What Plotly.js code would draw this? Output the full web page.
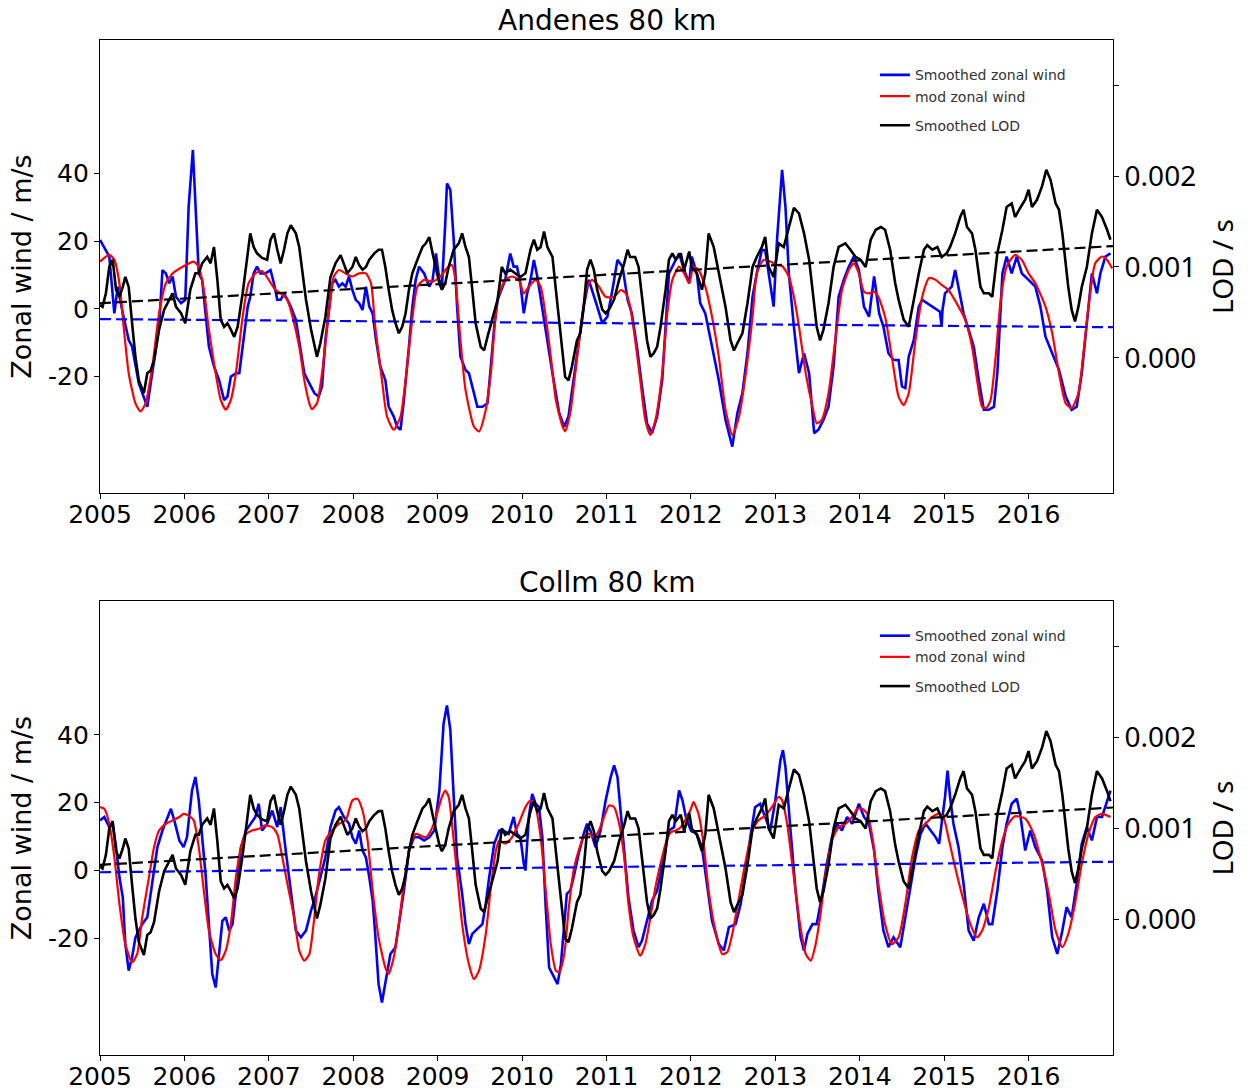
<!DOCTYPE html>
<html>
<head>
<meta charset="utf-8">
<script src="https://cdn.plot.ly/plotly-3.0.1.min.js"></script>
<style>html,body{margin:0;padding:0;background:#fff;}#chart{width:1256px;height:1092px;}</style>
</head>
<body>
<div id="chart"></div>
<script>
// ---------- data ----------
const panelTitles = ["Andenes 80 km", "Collm 80 km"];
const yearTicks = [2005,2006,2007,2008,2009,2010,2011,2012,2013,2014,2015,2016];
const windTicks = [-20, 0, 20, 40];
const windTickText = ["-20", "0", "20", "40"];
const lodTicks = [0, 0.001, 0.002, 0.003];
const lodTickText = ["0.000", "0.001", "0.002", ""];
const trendYears = [2005, 2017];

const andenesWindYears = [2005.00,2005.07,2005.11,2005.17,2005.21,2005.27,2005.34,2005.38,2005.46,2005.56,2005.62,2005.70,2005.74,2005.78,2005.82,2005.86,2005.90,2005.96,2006.01,2006.05,2006.10,2006.13,2006.17,2006.21,2006.25,2006.29,2006.35,2006.41,2006.47,2006.51,2006.55,2006.61,2006.65,2006.69,2006.75,2006.78,2006.82,2006.86,2006.90,2006.96,2007.02,2007.06,2007.10,2007.14,2007.18,2007.22,2007.26,2007.32,2007.36,2007.42,2007.48,2007.54,2007.59,2007.63,2007.67,2007.71,2007.75,2007.79,2007.83,2007.87,2007.91,2007.95,2007.99,2008.03,2008.07,2008.11,2008.15,2008.19,2008.23,2008.27,2008.32,2008.38,2008.42,2008.48,2008.52,2008.56,2008.60,2008.66,2008.70,2008.74,2008.78,2008.84,2008.90,2008.94,2008.98,2009.02,2009.05,2009.09,2009.11,2009.15,2009.19,2009.23,2009.27,2009.33,2009.37,2009.43,2009.47,2009.53,2009.59,2009.63,2009.67,2009.71,2009.80,2009.86,2009.90,2009.94,2009.98,2010.02,2010.06,2010.10,2010.14,2010.18,2010.24,2010.30,2010.36,2010.44,2010.50,2010.55,2010.61,2010.67,2010.73,2010.79,2010.83,2010.89,2010.95,2011.01,2011.07,2011.13,2011.19,2011.25,2011.30,2011.36,2011.42,2011.48,2011.54,2011.60,2011.66,2011.70,2011.74,2011.80,2011.86,2011.92,2011.98,2012.01,2012.07,2012.11,2012.17,2012.25,2012.33,2012.41,2012.49,2012.55,2012.61,2012.67,2012.73,2012.78,2012.84,2012.88,2012.94,2012.98,2013.02,2013.08,2013.12,2013.16,2013.22,2013.28,2013.34,2013.40,2013.46,2013.51,2013.57,2013.63,2013.69,2013.75,2013.81,2013.87,2013.93,2013.99,2014.05,2014.11,2014.17,2014.23,2014.28,2014.34,2014.40,2014.46,2014.50,2014.54,2014.58,2014.64,2014.70,2014.74,2014.95,2014.97,2014.98,2015.01,2015.05,2015.09,2015.13,2015.17,2015.23,2015.29,2015.35,2015.41,2015.47,2015.53,2015.59,2015.63,2015.69,2015.74,2015.80,2015.86,2015.92,2016.00,2016.08,2016.14,2016.20,2016.28,2016.36,2016.44,2016.51,2016.57,2016.63,2016.69,2016.75,2016.81,2016.85,2016.91,2016.97];
const andenesWind = [20.4,17.4,15.5,-1.3,6.6,-1.3,-9.2,-11.1,-22.0,-28.9,-19.0,-5.2,11.5,10.5,7.6,9.6,3.6,1.7,2.7,30.2,47.0,30.2,10.5,8.6,-2.3,-11.1,-17.0,-21.0,-26.9,-25.9,-20.0,-19.0,-19.0,-11.1,0.7,3.6,10.5,12.5,10.5,10.5,11.5,7.6,2.7,2.7,4.6,2.7,0.7,-3.2,-9.2,-19.0,-22.0,-24.9,-25.9,-22.9,-9.2,-1.3,7.6,8.6,6.6,7.6,6.6,9.6,5.6,2.7,1.7,-0.3,6.6,0.7,-1.3,-9.2,-17.0,-21.0,-28.9,-31.8,-34.8,-35.7,-26.9,-11.1,0.7,8.6,12.5,10.5,6.6,8.6,16.4,8.6,6.6,25.3,37.1,35.2,20.4,0.7,-14.1,-18.0,-19.0,-24.9,-28.9,-28.9,-27.9,-17.0,-5.2,2.7,8.6,16.4,12.5,12.5,7.6,-1.3,4.6,8.6,14.5,9.6,-0.3,-9.2,-19.0,-30.8,-34.8,-31.8,-21.0,-10.1,0.7,8.6,5.6,0.7,-4.2,-2.3,5.6,14.5,12.5,2.7,-1.3,-11.1,-22.9,-33.8,-36.7,-31.8,-21.0,-4.2,10.5,13.5,16.4,11.5,7.6,15.5,10.5,1.7,-1.3,-11.1,-21.0,-32.8,-40.7,-30.8,-24.9,-13.1,3.6,10.5,17.4,17.4,6.6,0.7,20.4,41.1,30.2,10.5,-5.2,-19.0,-13.1,-19.0,-36.7,-35.7,-32.8,-28.9,-17.0,3.6,8.6,12.5,15.5,11.5,0.7,-2.3,9.6,-1.3,-5.2,-13.1,-15.1,-15.1,-22.9,-23.4,-14.1,-9.2,0.7,2.7,-0.8,-5.2,-0.3,4.6,5.6,6.6,11.5,6.6,-1.3,-6.2,-11.1,-21.0,-29.8,-29.8,-28.9,-19.0,10.5,15.5,10.5,15.5,10.5,8.6,6.6,0.7,-8.2,-13.1,-18.0,-25.9,-29.8,-28.9,-19.0,-4.2,10.5,4.6,10.5,15.5,16.4];

const andenesModYears = [2005.00,2005.11,2005.17,2005.23,2005.28,2005.34,2005.42,2005.48,2005.54,2005.62,2005.70,2005.78,2005.86,2005.98,2006.11,2006.17,2006.23,2006.29,2006.37,2006.43,2006.49,2006.55,2006.61,2006.69,2006.76,2006.84,2006.92,2007.00,2007.08,2007.14,2007.22,2007.28,2007.36,2007.42,2007.48,2007.51,2007.57,2007.63,2007.71,2007.77,2007.83,2007.91,2007.99,2008.07,2008.15,2008.21,2008.26,2008.34,2008.40,2008.48,2008.56,2008.62,2008.68,2008.76,2008.84,2008.94,2009.03,2009.11,2009.17,2009.21,2009.27,2009.33,2009.43,2009.49,2009.57,2009.63,2009.71,2009.80,2009.88,2009.96,2010.02,2010.08,2010.16,2010.22,2010.28,2010.34,2010.40,2010.48,2010.51,2010.57,2010.63,2010.71,2010.77,2010.83,2010.91,2010.99,2011.09,2011.17,2011.23,2011.28,2011.34,2011.40,2011.46,2011.52,2011.58,2011.66,2011.72,2011.78,2011.86,2011.92,2011.98,2012.03,2012.09,2012.17,2012.25,2012.33,2012.41,2012.49,2012.57,2012.65,2012.73,2012.78,2012.86,2012.94,2013.02,2013.08,2013.16,2013.22,2013.28,2013.36,2013.44,2013.49,2013.55,2013.63,2013.71,2013.79,2013.87,2013.93,2013.99,2014.05,2014.11,2014.17,2014.22,2014.30,2014.38,2014.46,2014.52,2014.58,2014.66,2014.74,2014.82,2014.90,2014.97,2015.05,2015.17,2015.25,2015.33,2015.39,2015.45,2015.50,2015.55,2015.61,2015.67,2015.74,2015.84,2015.92,2016.00,2016.08,2016.20,2016.28,2016.36,2016.44,2016.51,2016.59,2016.65,2016.71,2016.79,2016.87,2016.93,2016.99];
const andenesMod = [14.0,16.0,14.5,7.6,-5.2,-19.0,-27.9,-30.3,-27.9,-17.0,-1.3,7.6,10.5,12.5,14.0,12.5,5.6,-6.2,-19.0,-26.9,-29.8,-26.9,-19.0,-2.3,7.6,10.5,11.2,8.6,5.6,4.6,2.7,-2.3,-11.1,-21.0,-27.9,-29.6,-27.9,-19.0,-1.3,9.6,11.5,10.5,9.6,10.5,10.5,7.6,-5.2,-21.0,-31.8,-35.7,-31.8,-21.0,-7.2,6.6,8.6,8.1,9.6,12.0,13.0,8.6,-9.2,-23.9,-34.8,-36.2,-29.8,-19.0,2.7,8.6,9.6,8.6,4.6,6.6,8.6,6.6,-2.3,-14.1,-26.9,-34.8,-36.2,-30.8,-19.0,-2.3,6.6,8.6,6.6,3.6,3.6,5.6,4.6,0.7,-9.2,-21.0,-32.8,-37.2,-32.8,-19.0,-1.3,8.6,12.5,10.5,7.6,12.5,11.5,6.6,-2.3,-14.1,-29.8,-37.2,-31.8,-19.0,-2.3,10.5,14.5,14.0,13.0,12.7,9.6,3.6,-5.2,-19.0,-28.9,-33.8,-32.8,-24.9,-9.2,5.6,11.5,13.5,10.5,5.1,4.6,5.1,3.6,-2.3,-14.1,-25.9,-28.4,-24.9,-9.2,3.6,9.1,8.6,7.1,5.6,0.7,-3.2,-11.1,-21.0,-28.9,-29.3,-26.9,-14.1,2.7,12.5,16.0,14.5,10.5,7.6,0.7,-7.2,-19.0,-27.9,-29.3,-24.9,-13.1,0.7,13.5,15.5,14.5,12.0];

const lodYears = [2005.00,2005.03,2005.07,2005.11,2005.15,2005.19,2005.23,2005.27,2005.30,2005.34,2005.38,2005.42,2005.46,2005.52,2005.56,2005.60,2005.64,2005.70,2005.76,2005.82,2005.86,2005.90,2005.96,2006.01,2006.07,2006.13,2006.17,2006.21,2006.27,2006.31,2006.35,2006.39,2006.43,2006.47,2006.51,2006.55,2006.59,2006.63,2006.69,2006.75,2006.78,2006.82,2006.86,2006.92,2006.98,2007.02,2007.06,2007.10,2007.14,2007.18,2007.22,2007.26,2007.32,2007.36,2007.40,2007.44,2007.50,2007.54,2007.57,2007.61,2007.67,2007.73,2007.79,2007.85,2007.89,2007.93,2007.99,2008.03,2008.07,2008.11,2008.15,2008.19,2008.25,2008.30,2008.34,2008.38,2008.42,2008.46,2008.50,2008.54,2008.58,2008.62,2008.66,2008.70,2008.76,2008.82,2008.86,2008.90,2008.94,2008.98,2009.02,2009.05,2009.09,2009.13,2009.19,2009.25,2009.29,2009.33,2009.37,2009.41,2009.45,2009.51,2009.55,2009.59,2009.65,2009.71,2009.76,2009.80,2009.86,2009.92,2009.98,2010.04,2010.10,2010.14,2010.18,2010.22,2010.26,2010.30,2010.36,2010.40,2010.44,2010.48,2010.51,2010.55,2010.59,2010.65,2010.69,2010.73,2010.77,2010.81,2010.85,2010.89,2010.95,2010.99,2011.03,2011.09,2011.15,2011.21,2011.25,2011.28,2011.34,2011.38,2011.42,2011.48,2011.52,2011.56,2011.60,2011.64,2011.70,2011.74,2011.78,2011.82,2011.88,2011.92,2011.98,2012.01,2012.07,2012.13,2012.17,2012.21,2012.27,2012.33,2012.41,2012.47,2012.51,2012.55,2012.61,2012.67,2012.73,2012.78,2012.84,2012.88,2012.92,2012.98,2013.04,2013.10,2013.16,2013.22,2013.28,2013.34,2013.40,2013.46,2013.49,2013.53,2013.57,2013.63,2013.69,2013.75,2013.83,2013.89,2013.95,2014.01,2014.07,2014.13,2014.19,2014.25,2014.30,2014.36,2014.42,2014.46,2014.52,2014.58,2014.64,2014.70,2014.76,2014.80,2014.86,2014.92,2014.97,2015.03,2015.07,2015.13,2015.19,2015.23,2015.27,2015.33,2015.37,2015.43,2015.47,2015.53,2015.57,2015.63,2015.69,2015.74,2015.80,2015.84,2015.90,2015.96,2016.00,2016.04,2016.10,2016.16,2016.21,2016.26,2016.32,2016.36,2016.40,2016.44,2016.47,2016.51,2016.55,2016.59,2016.63,2016.69,2016.75,2016.81,2016.87,2016.93,2016.97];
const lod = [0.00058,0.00056,0.00071,0.00100,0.00108,0.00075,0.00067,0.00078,0.00089,0.00078,0.00038,0.00001,-0.00025,-0.00039,-0.00017,-0.00014,-0.00003,0.00031,0.00053,0.00064,0.00071,0.00056,0.00049,0.00038,0.00075,0.00093,0.00093,0.00104,0.00111,0.00104,0.00122,0.00086,0.00042,0.00034,0.00038,0.00031,0.00023,0.00034,0.00071,0.00115,0.00137,0.00122,0.00115,0.00110,0.00108,0.00130,0.00137,0.00119,0.00104,0.00119,0.00137,0.00146,0.00137,0.00122,0.00093,0.00064,0.00031,0.00012,0.00001,0.00016,0.00045,0.00089,0.00104,0.00113,0.00104,0.00093,0.00100,0.00111,0.00102,0.00097,0.00100,0.00108,0.00115,0.00119,0.00119,0.00100,0.00075,0.00053,0.00038,0.00027,0.00034,0.00049,0.00075,0.00093,0.00108,0.00122,0.00126,0.00133,0.00115,0.00100,0.00082,0.00075,0.00082,0.00100,0.00119,0.00126,0.00137,0.00122,0.00111,0.00075,0.00038,0.00012,0.00008,0.00023,0.00045,0.00064,0.00100,0.00093,0.00097,0.00093,0.00089,0.00093,0.00119,0.00130,0.00119,0.00122,0.00139,0.00122,0.00111,0.00075,0.00038,0.00001,-0.00021,-0.00025,-0.00010,0.00019,0.00027,0.00056,0.00097,0.00108,0.00097,0.00075,0.00053,0.00049,0.00053,0.00064,0.00086,0.00104,0.00119,0.00111,0.00111,0.00100,0.00067,0.00019,0.00001,0.00005,0.00012,0.00034,0.00075,0.00108,0.00115,0.00108,0.00115,0.00097,0.00117,0.00100,0.00093,0.00075,0.00093,0.00137,0.00122,0.00093,0.00056,0.00019,0.00008,0.00016,0.00027,0.00060,0.00100,0.00111,0.00122,0.00133,0.00100,0.00089,0.00126,0.00122,0.00144,0.00165,0.00159,0.00137,0.00108,0.00060,0.00034,0.00019,0.00031,0.00060,0.00100,0.00122,0.00126,0.00119,0.00111,0.00108,0.00100,0.00130,0.00141,0.00144,0.00141,0.00119,0.00082,0.00064,0.00042,0.00034,0.00064,0.00093,0.00119,0.00124,0.00119,0.00122,0.00111,0.00115,0.00122,0.00137,0.00155,0.00163,0.00144,0.00137,0.00119,0.00078,0.00071,0.00071,0.00067,0.00115,0.00141,0.00166,0.00170,0.00155,0.00165,0.00174,0.00185,0.00166,0.00174,0.00189,0.00207,0.00196,0.00170,0.00163,0.00137,0.00104,0.00078,0.00053,0.00040,0.00056,0.00078,0.00100,0.00137,0.00163,0.00155,0.00141,0.00130];

const collmWindYears = [2005.00,2005.05,2005.11,2005.15,2005.19,2005.23,2005.27,2005.30,2005.34,2005.38,2005.42,2005.46,2005.50,2005.56,2005.62,2005.68,2005.74,2005.80,2005.84,2005.88,2005.94,2005.99,2006.03,2006.09,2006.13,2006.17,2006.21,2006.25,2006.29,2006.33,2006.37,2006.41,2006.45,2006.49,2006.53,2006.57,2006.61,2006.67,2006.73,2006.78,2006.84,2006.88,2006.92,2006.98,2007.04,2007.10,2007.14,2007.20,2007.26,2007.32,2007.38,2007.44,2007.50,2007.55,2007.61,2007.67,2007.73,2007.79,2007.83,2007.89,2007.95,2007.99,2008.03,2008.07,2008.11,2008.15,2008.19,2008.23,2008.26,2008.30,2008.34,2008.38,2008.44,2008.50,2008.54,2008.60,2008.66,2008.72,2008.78,2008.84,2008.90,2008.96,2009.02,2009.07,2009.11,2009.15,2009.19,2009.23,2009.29,2009.33,2009.37,2009.41,2009.47,2009.53,2009.57,2009.61,2009.67,2009.73,2009.78,2009.84,2009.90,2009.94,2009.98,2010.02,2010.04,2010.08,2010.12,2010.16,2010.20,2010.24,2010.28,2010.32,2010.38,2010.42,2010.46,2010.50,2010.53,2010.57,2010.61,2010.67,2010.73,2010.77,2010.81,2010.87,2010.93,2010.99,2011.05,2011.09,2011.13,2011.17,2011.21,2011.26,2011.32,2011.38,2011.42,2011.48,2011.54,2011.60,2011.66,2011.70,2011.74,2011.80,2011.86,2011.90,2011.94,2012.00,2012.07,2012.13,2012.19,2012.25,2012.33,2012.39,2012.45,2012.53,2012.59,2012.65,2012.71,2012.76,2012.82,2012.88,2012.94,2013.00,2013.06,2013.09,2013.12,2013.18,2013.24,2013.30,2013.34,2013.38,2013.44,2013.49,2013.55,2013.61,2013.67,2013.73,2013.79,2013.85,2013.91,2013.99,2014.05,2014.11,2014.17,2014.22,2014.28,2014.34,2014.40,2014.48,2014.54,2014.60,2014.66,2014.72,2014.78,2014.84,2014.90,2014.94,2014.97,2015.01,2015.04,2015.07,2015.11,2015.17,2015.23,2015.29,2015.35,2015.41,2015.47,2015.53,2015.57,2015.63,2015.69,2015.74,2015.80,2015.86,2015.90,2015.96,2016.02,2016.08,2016.16,2016.22,2016.28,2016.34,2016.40,2016.45,2016.51,2016.57,2016.63,2016.69,2016.75,2016.81,2016.87,2016.93,2016.97];
const collmWind = [14.8,15.8,12.8,13.8,6.9,-2.0,-7.9,-21.7,-29.5,-25.6,-19.7,-17.7,-15.8,-13.8,-3.9,6.9,11.8,15.8,18.2,14.8,8.9,6.9,9.8,23.6,27.6,20.7,10.8,-1.0,-15.8,-30.5,-34.5,-25.6,-14.8,-13.8,-17.7,-15.8,-5.9,6.9,11.8,13.8,15.8,19.7,11.8,13.8,17.7,12.8,18.7,5.9,-5.9,-17.7,-19.7,-17.7,-11.8,-7.9,-2.0,3.9,12.8,17.7,18.7,15.8,13.8,9.8,7.9,11.8,5.9,3.9,-2.0,-8.9,-18.7,-33.5,-38.9,-33.5,-24.6,-22.6,-15.8,-5.9,5.9,9.8,9.8,8.9,9.8,11.8,23.6,43.3,48.7,41.4,21.7,3.9,-6.9,-15.8,-21.7,-18.7,-17.2,-15.8,-9.8,-2.0,7.9,11.8,11.8,10.8,15.8,10.8,9.8,2.0,0.0,15.8,22.6,19.7,18.7,9.8,-10.8,-28.6,-31.5,-33.5,-27.6,-15.8,-6.9,-5.9,-2.0,4.9,10.8,13.8,11.8,6.9,11.8,20.7,27.6,31.0,27.6,16.7,5.9,-7.9,-17.7,-22.6,-20.7,-14.8,-8.9,-5.9,2.0,6.9,11.8,12.8,23.6,20.7,15.8,11.8,10.8,6.9,-3.9,-14.8,-21.7,-23.6,-16.7,-15.8,-9.8,1.0,10.8,18.7,19.7,15.8,11.8,20.7,32.5,35.5,30.5,11.8,-5.9,-19.7,-23.6,-18.7,-15.8,-15.8,-7.9,2.0,9.8,13.8,11.8,15.8,13.8,19.7,15.8,13.8,5.9,-5.9,-17.7,-22.6,-19.7,-22.6,-13.8,-5.9,3.9,10.8,13.8,11.8,9.8,7.9,13.8,21.7,29.5,21.7,13.8,6.9,-3.9,-17.7,-20.7,-13.8,-9.8,-15.8,-15.8,-5.9,6.9,13.8,19.7,21.2,16.7,5.9,11.8,6.9,3.0,-5.9,-19.7,-24.6,-17.7,-10.8,-13.8,-3.9,7.9,12.8,8.9,15.8,15.8,20.7,23.6];

const collmModYears = [2005.00,2005.05,2005.11,2005.17,2005.23,2005.30,2005.38,2005.44,2005.50,2005.58,2005.64,2005.70,2005.78,2005.86,2005.94,2005.99,2006.05,2006.11,2006.17,2006.23,2006.29,2006.37,2006.43,2006.49,2006.55,2006.61,2006.67,2006.73,2006.80,2006.88,2006.96,2007.04,2007.10,2007.16,2007.22,2007.30,2007.36,2007.42,2007.48,2007.53,2007.59,2007.67,2007.75,2007.83,2007.91,2007.99,2008.05,2008.11,2008.17,2008.23,2008.30,2008.38,2008.42,2008.48,2008.54,2008.60,2008.68,2008.74,2008.80,2008.86,2008.92,2008.98,2009.05,2009.09,2009.13,2009.17,2009.23,2009.29,2009.37,2009.43,2009.49,2009.57,2009.63,2009.69,2009.73,2009.80,2009.88,2009.96,2010.04,2010.10,2010.16,2010.22,2010.28,2010.34,2010.40,2010.44,2010.50,2010.55,2010.61,2010.67,2010.73,2010.79,2010.85,2010.91,2010.97,2011.03,2011.09,2011.15,2011.21,2011.26,2011.32,2011.40,2011.46,2011.52,2011.58,2011.64,2011.70,2011.76,2011.82,2011.88,2011.94,2012.00,2012.03,2012.09,2012.15,2012.21,2012.29,2012.37,2012.43,2012.49,2012.57,2012.65,2012.73,2012.80,2012.88,2012.96,2013.04,2013.08,2013.14,2013.20,2013.28,2013.36,2013.42,2013.47,2013.53,2013.59,2013.67,2013.75,2013.83,2013.91,2013.97,2014.03,2014.09,2014.15,2014.22,2014.30,2014.38,2014.46,2014.54,2014.62,2014.70,2014.78,2014.86,2014.94,2014.99,2015.05,2015.13,2015.23,2015.31,2015.39,2015.45,2015.53,2015.61,2015.69,2015.76,2015.84,2015.96,2016.06,2016.16,2016.24,2016.32,2016.40,2016.47,2016.55,2016.63,2016.71,2016.79,2016.87,2016.97];
const collmMod = [18.7,18.2,13.8,3.9,-9.8,-21.7,-27.1,-24.6,-13.8,-2.0,6.9,11.8,13.8,14.8,15.8,16.7,16.2,14.8,6.9,-5.9,-17.7,-24.6,-26.4,-23.6,-15.8,-2.0,6.9,10.8,11.8,12.3,13.3,12.8,10.8,3.9,-3.9,-13.8,-23.6,-26.6,-24.6,-15.8,-2.0,8.9,11.8,13.8,14.8,20.7,21.2,17.7,8.9,-5.9,-19.7,-28.6,-30.5,-25.6,-15.8,-3.9,7.9,10.8,10.3,9.8,11.8,15.8,21.7,23.6,21.7,13.8,-1.0,-15.8,-27.6,-32.0,-29.5,-18.7,-4.9,5.9,8.9,7.9,9.8,13.8,18.7,20.7,18.7,9.8,-5.9,-21.7,-29.5,-30.0,-24.6,-11.8,0.0,5.9,9.8,10.8,9.8,11.8,15.8,19.2,18.7,13.8,3.9,-9.8,-19.7,-25.1,-21.7,-13.8,-4.9,2.0,7.9,11.3,11.8,12.8,15.3,18.2,20.2,16.7,7.9,-5.9,-17.7,-24.6,-24.1,-18.7,-7.9,3.0,11.8,14.8,16.2,18.7,21.7,20.7,13.8,2.0,-13.8,-24.6,-26.6,-22.6,-13.8,-2.0,8.9,12.8,13.8,15.8,18.2,18.2,16.7,9.8,-3.9,-15.8,-21.7,-19.7,-9.8,3.9,11.8,13.8,15.8,16.7,15.8,9.8,1.0,-8.9,-15.8,-19.7,-17.7,-10.8,0.0,8.9,13.8,16.0,15.3,10.8,2.0,-6.9,-17.7,-22.6,-18.7,-9.8,2.0,10.8,15.8,16.7,15.8];

const andenesWindTrend = [-3.0, -5.4];
const collmWindTrend = [-0.5, 2.6];
const lodTrend = [0.00060, 0.00123];

// ---------- styling ----------
const FONT = "DejaVu Sans";
const BLUE = "#0000ff", RED = "#ff0000", BLACK = "#000000";

function panelTraces(windY, wind, modY, mod, windTrend, xa, ya, ya2, legendName) {
  return [
    {x: windY, y: wind, xaxis: xa, yaxis: ya, type: "scatter", mode: "lines",
     name: "Smoothed zonal wind", line: {color: BLUE, width: 2.6}, legend: legendName, legendgroup: legendName + "w"},
    {x: modY, y: mod, xaxis: xa, yaxis: ya, type: "scatter", mode: "lines",
     name: "mod zonal wind", line: {color: RED, width: 2.2, shape: "spline", smoothing: 0.6}, legend: legendName, legendgroup: legendName + "w"},
    {x: trendYears, y: windTrend, xaxis: xa, yaxis: ya, type: "scatter", mode: "lines",
     showlegend: false, line: {color: BLUE, width: 2.2, dash: "11px,5px"}},
    {x: lodYears, y: lod, xaxis: xa, yaxis: ya2, type: "scatter", mode: "lines",
     name: "Smoothed LOD", line: {color: BLACK, width: 2.6}, legend: legendName, legendgroup: legendName + "l"},
    {x: trendYears, y: lodTrend, xaxis: xa, yaxis: ya2, type: "scatter", mode: "lines",
     showlegend: false, line: {color: BLACK, width: 2.2, dash: "11px,5px"}}
  ];
}

const data = [].concat(
  panelTraces(andenesWindYears, andenesWind, andenesModYears, andenesMod, andenesWindTrend, "x", "y", "y2", "legend"),
  panelTraces(collmWindYears, collmWind, collmModYears, collmMod, collmWindTrend, "x2", "y3", "y4", "legend2")
);

function xAxis(anchor) {
  return {anchor: anchor, domain: [0, 1], range: [2005, 2017], tickvals: yearTicks,
    ticktext: yearTicks.map(String), ticks: "outside", ticklen: 5, tickwidth: 1, tickcolor: "#000",
    ticklabelstandoff: -6,
    showline: true, mirror: true, linecolor: "#000", linewidth: 1.2, showgrid: false, zeroline: false,
    tickfont: {family: FONT, size: 25, color: "#000"}};
}
function leftAxis(anchor, domain) {
  return {anchor: anchor, domain: domain, range: [-54.4, 79.5], tickvals: windTicks, ticktext: windTickText,
    ticks: "outside", ticklen: 5, tickwidth: 1, tickcolor: "#000",
    showline: true, mirror: true, linecolor: "#000", linewidth: 1.2, showgrid: false, zeroline: false,
    tickfont: {family: FONT, size: 25, color: "#000"},
    title: {text: "Zonal wind / m/s", font: {family: FONT, size: 27, color: "#000"}, standoff: 8}};
}
function rightAxis(anchor, overlay) {
  return {anchor: anchor, overlaying: overlay, side: "right", range: [-0.00149, 0.0035],
    tickvals: lodTicks, ticktext: lodTickText, ticks: "outside", ticklen: 5, tickwidth: 1, tickcolor: "#000",
    showline: false, showgrid: false, zeroline: false,
    tickfont: {family: "Noto Sans", size: 28, color: "#000"},
    title: {text: "LOD / s", font: {family: "Noto Sans", size: 28, color: "#000"}, standoff: 18}};
}
function legendBox(y) {
  return {x: 0.765, y: y, xanchor: "left", yanchor: "top", bgcolor: "rgba(0,0,0,0)", borderwidth: 0,
    font: {family: FONT, size: 14, color: "#333"}, traceorder: "grouped", tracegroupgap: 8};
}

const layout = {
  width: 1256, height: 1092,
  margin: {l: 100, r: 143, t: 40, b: 37},
  paper_bgcolor: "#fff", plot_bgcolor: "#fff",
  showlegend: true,
  xaxis: xAxis("y"),
  yaxis: leftAxis("x", [0.5537, 1]),
  yaxis2: rightAxis("x", "y"),
  xaxis2: xAxis("y3"),
  yaxis3: leftAxis("x2", [0, 0.4473]),
  yaxis4: rightAxis("x2", "y3"),
  legend: legendBox(0.981),
  legend2: legendBox(0.4285),
  annotations: [
    {text: panelTitles[0], xref: "paper", yref: "paper", x: 0.5, y: 1.0197, xanchor: "center", yanchor: "middle",
     showarrow: false, font: {family: FONT, size: 28, color: "#000"}},
    {text: panelTitles[1], xref: "paper", yref: "paper", x: 0.5, y: 0.466, xanchor: "center", yanchor: "middle",
     showarrow: false, font: {family: FONT, size: 28, color: "#000"}}
  ]
};

Plotly.newPlot("chart", data, layout, {displayModeBar: false, staticPlot: true});
</script>
</body>
</html>
